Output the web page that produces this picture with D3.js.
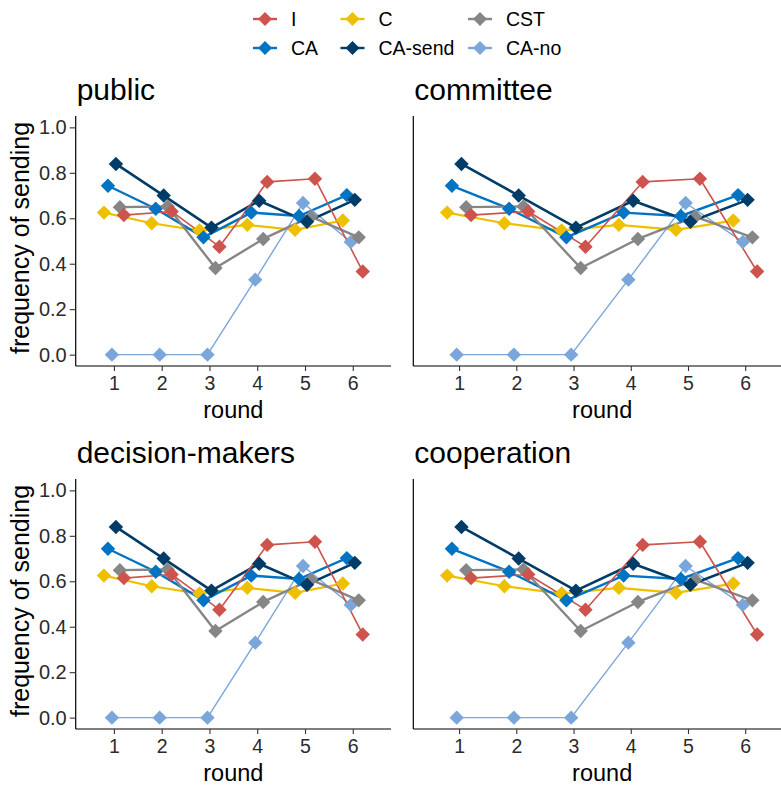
<!DOCTYPE html>
<html>
<head>
<meta charset="utf-8">
<script src="https://cdn.jsdelivr.net/npm/d3@7/dist/d3.min.js"></script>
<style>
  html, body { margin: 0; padding: 0; background: #fff; }
  svg { display: block; font-family: "Liberation Sans", Arial, sans-serif; }
</style>
</head>
<body>
<script>
// ---- data ----
const rounds = [1, 2, 3, 4, 5, 6];
const panelTitles = ["public", "committee", "decision-makers", "cooperation"];
const seriesNames = ["I", "CA", "C", "CA-send", "CST", "CA-no"];
const valuesI      = [0.614, 0.630, 0.475, 0.760, 0.774, 0.366];
const valuesCA     = [0.743, 0.642, 0.516, 0.625, 0.610, 0.702];
const valuesC      = [0.625, 0.578, 0.546, 0.571, 0.549, 0.590];
const valuesCAsend = [0.839, 0.700, 0.559, 0.677, 0.585, 0.681];
const valuesCST    = [0.649, 0.652, 0.381, 0.509, 0.607, 0.516];
const valuesCAno   = [0.000, 0.000, 0.000, 0.330, 0.667, 0.496];
const yTicks = [0, 0.2, 0.4, 0.6, 0.8, 1.0];
const xTicks = [1, 2, 3, 4, 5, 6];

const seriesValues = {
  "I": valuesI, "CA": valuesCA, "C": valuesC,
  "CA-send": valuesCAsend, "CST": valuesCST, "CA-no": valuesCAno
};
const colors = {
  "I": "#CD534C", "CA": "#0073C2", "C": "#EFC000",
  "CA-send": "#003C67", "CST": "#868686", "CA-no": "#7AA6DC"
};
const lineWidths = { "I": 1.6, "CA": 2.4, "C": 2.2, "CA-send": 2.6, "CST": 2.4, "CA-no": 1.4 };

// dodge: groups sorted alphabetically, total width 0.5
const dodgeOrder = seriesNames.slice().sort();
const dodgeWidth = 0.5;
const dodge = name => (dodgeOrder.indexOf(name) - (dodgeOrder.length - 1) / 2) * dodgeWidth / dodgeOrder.length;

// drawing order for marks
const drawOrder = ["C", "CA", "CA-no", "CST", "CA-send", "I"];

const W = 781, H = 785;
const svg = d3.select("body").append("svg").attr("width", W).attr("height", H);

const cols = [{ x0: 75.7, x1: 391, yLabels: true }, { x0: 413.3, x1: 791, yLabels: false }];
const rows = [{ y0: 116, y1: 366 }, { y0: 479, y1: 729 }];

const diamond = (cx, cy, r) => `M${cx},${cy - r}L${cx + r},${cy}L${cx},${cy + r}L${cx - r},${cy}Z`;
const tickColor = "#2b2b2b";
const markR = 7.2;

panelTitles.forEach((title, i) => {
  const c = cols[i % 2], r = rows[Math.floor(i / 2)];
  const x = d3.scaleLinear().domain([0.2, 6.8]).range([c.x0, c.x1]);
  const y = d3.scaleLinear().domain([-0.05, 1.05]).range([r.y1, r.y0]);
  const g = svg.append("g");

  // axes
  const xAxis = g.append("g").attr("transform", `translate(0,${r.y1})`)
    .call(d3.axisBottom(x).tickValues(xTicks).tickFormat(d3.format("d")).tickSize(5).tickPadding(5));
  xAxis.select(".domain").attr("stroke", "#000").attr("stroke-width", 1.2).attr("d", `M${c.x0},0H${c.x1}`);
  xAxis.selectAll(".tick line").attr("stroke", "#333").attr("stroke-width", 1.1);
  xAxis.selectAll("text").attr("font-size", 19.5).attr("fill", tickColor)
    .attr("font-family", "Liberation Sans, Arial, sans-serif");

  const yAxis = g.append("g").attr("transform", `translate(${c.x0},0)`)
    .call(d3.axisLeft(y).tickValues(c.yLabels ? yTicks : []).tickFormat(d3.format(".1f")).tickSize(6).tickPadding(3));
  yAxis.select(".domain").attr("stroke", "#000").attr("stroke-width", 1.2).attr("d", `M0,${r.y0}V${r.y1}`);
  yAxis.selectAll(".tick line").attr("stroke", "#333").attr("stroke-width", 1.1);
  yAxis.selectAll("text").attr("font-size", 20).attr("fill", tickColor)
    .attr("font-family", "Liberation Sans, Arial, sans-serif");

  // titles
  g.append("text").attr("x", c.x0 + 1).attr("y", r.y0 - 16)
    .attr("font-size", 30).attr("fill", "#000").text(title);
  g.append("text").attr("x", (c.x0 + c.x1) / 2).attr("y", r.y1 + 52)
    .attr("text-anchor", "middle").attr("font-size", 23.5).attr("fill", "#000").text("round");
  if (c.yLabels) {
    g.append("text")
      .attr("transform", `translate(29,${(r.y0 + r.y1) / 2 - 3}) rotate(-90)`)
      .attr("text-anchor", "middle").attr("font-size", 25).attr("fill", "#000")
      .text("frequency of sending");
  }

  // lines
  const line = name => d3.line()
    .x((v, k) => x(rounds[k] + dodge(name)))
    .y(v => y(v));
  drawOrder.forEach(name => {
    g.append("path").datum(seriesValues[name])
      .attr("d", line(name)).attr("fill", "none")
      .attr("stroke", colors[name]).attr("stroke-width", lineWidths[name])
      .attr("stroke-linejoin", "round");
  });
  // points
  drawOrder.forEach(name => {
    g.append("g").selectAll("path").data(seriesValues[name]).join("path")
      .attr("d", (v, k) => diamond(x(rounds[k] + dodge(name)), y(v), markR))
      .attr("fill", colors[name]);
  });
});

// legend: two rows, filled column by column
const legendCols = [265, 352.5, 480];
const legendRows = [19, 48];
seriesNames.forEach((name, i) => {
  const cx = legendCols[Math.floor(i / 2)], cy = legendRows[i % 2];
  const lg = svg.append("g");
  lg.append("line").attr("x1", cx - 12).attr("x2", cx + 12).attr("y1", cy).attr("y2", cy)
    .attr("stroke", colors[name]).attr("stroke-width", 2.4);
  lg.append("path").attr("d", diamond(cx, cy, 7)).attr("fill", colors[name]);
  lg.append("text").attr("x", cx + 26).attr("y", cy).attr("dy", "0.36em")
    .attr("font-size", 19.5).attr("fill", "#000").text(name);
});
</script>
</body>
</html>
